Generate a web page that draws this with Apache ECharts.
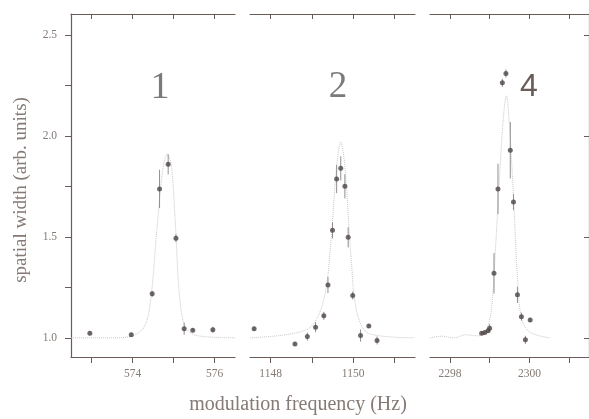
<!DOCTYPE html>
<html><head><meta charset="utf-8">
<script src="https://cdn.jsdelivr.net/npm/echarts@6/dist/echarts.min.js"></script>
<style>html,body{margin:0;padding:0;background:#fff}#c{width:589px;height:419px}</style>
</head><body><div id="c"></div>
<script>
// Panel 1 (~575 Hz)
const p1x = [572.96, 573.97, 574.48, 574.66, 574.87, 575.06, 575.26, 575.47, 575.96];
const p1y = [1.023, 1.015, 1.218, 1.738, 1.86, 1.494, 1.045, 1.038, 1.04];
const p1err = [0.01, 0.01, 0.015, 0.095, 0.05, 0.02, 0.03, 0.01, 0.015];
const fit1x = [572.5, 573.5, 574.0, 574.3, 574.45, 574.6, 574.75, 574.85, 574.95, 575.05, 575.15, 575.3, 575.6, 576.5];
const fit1y = [1.0, 1.0, 1.01, 1.06, 1.2, 1.55, 1.85, 1.91, 1.85, 1.55, 1.2, 1.05, 1.01, 1.0];
// Panel 2 (~1150 Hz)
const p2x = [1147.6, 1148.59, 1148.89, 1149.09, 1149.29, 1149.39, 1149.5, 1149.6, 1149.7, 1149.8, 1149.88, 1149.99, 1150.18, 1150.38, 1150.58];
const p2y = [1.045, 0.97, 1.006, 1.053, 1.109, 1.262, 1.533, 1.787, 1.84, 1.751, 1.498, 1.21, 1.011, 1.059, 0.987];
const p2err = [0.01, 0.01, 0.02, 0.025, 0.02, 0.04, 0.04, 0.07, 0.06, 0.06, 0.05, 0.02, 0.03, 0.01, 0.02];
const fit2x = [1147.5, 1148.5, 1149.0, 1149.3, 1149.45, 1149.6, 1149.7, 1149.8, 1149.95, 1150.1, 1150.4, 1151.5];
const fit2y = [1.0, 1.02, 1.06, 1.2, 1.45, 1.85, 1.97, 1.85, 1.4, 1.12, 1.02, 1.0];
// Panel 4 (~2300 Hz)
const p3x = [2298.8, 2298.88, 2298.96, 2299.0, 2299.11, 2299.21, 2299.32, 2299.41, 2299.52, 2299.6, 2299.7, 2299.8, 2299.9, 2300.02];
const p3y = [1.023, 1.026, 1.035, 1.048, 1.32, 1.738, 2.264, 2.31, 1.93, 1.673, 1.213, 1.105, 0.99, 1.089];
const p3err = [0.01, 0.01, 0.01, 0.02, 0.1, 0.125, 0.02, 0.02, 0.14, 0.04, 0.04, 0.02, 0.02, 0.01];
const fit3x = [2297.5, 2297.8, 2298.1, 2298.4, 2298.7, 2298.9, 2299.05, 2299.15, 2299.25, 2299.35, 2299.42, 2299.5, 2299.6, 2299.7, 2299.8, 2300.0, 2300.5];
const fit3y = [1.0, 1.008, 1.0, 1.015, 1.01, 1.03, 1.15, 1.45, 1.8, 2.1, 2.2, 2.05, 1.7, 1.3, 1.1, 1.03, 1.0];

const ranges = [[572.5, 576.5], [1147.5, 1151.5], [2297.5, 2301.5]];
const tickVals = [[573, 574, 575, 576], [1148, 1149, 1150, 1151], [2298, 2299, 2300, 2301]];
const labelVals = [[574, 576], [1148, 1150], [2298, 2300]];
const panelNames = ['1', '2', '4'];
const yTicks = [1.0, 1.25, 1.5, 1.75, 2.0, 2.25, 2.5];
const yLabels = [1.0, 1.5, 2.0, 2.5];
const yMin = 0.905, yMax = 2.605;

const AX = '#6b5b57', TX = '#857a75', FONT = '"Liberation Serif", "DejaVu Serif", serif';
const grids = [
  {left: 71, top: 14, width: 164, height: 343},
  {left: 250, top: 14, width: 165, height: 343},
  {left: 430, top: 14, width: 164, height: 343}
];
const xAxis = [], yAxis = [], series = [];
const panels = [[p1x, p1y, p1err, fit1x, fit1y], [p2x, p2y, p2err, fit2x, fit2y], [p3x, p3y, p3err, fit3x, fit3y]];
for (let i = 0; i < 3; i++) {
  xAxis.push({type: 'value', gridIndex: i, position: 'bottom', min: ranges[i][0], max: ranges[i][1],
    axisLine: {show: true, lineStyle: {color: AX, width: 1.2}},
    axisTick: {show: true, inside: false, length: 6, customValues: tickVals[i], lineStyle: {color: AX, width: 1}},
    axisLabel: {show: true, customValues: labelVals[i], margin: 11, color: TX, fontFamily: FONT, fontSize: 11.5,
      formatter: v => String(v)},
    splitLine: {show: false}});
  xAxis.push({type: 'value', gridIndex: i, position: 'top', min: ranges[i][0], max: ranges[i][1],
    axisLine: {show: true, lineStyle: {color: AX, width: 1.2}},
    axisTick: {show: true, inside: true, length: 5, customValues: tickVals[i], lineStyle: {color: AX, width: 1}},
    axisLabel: {show: false}, splitLine: {show: false}});
  yAxis.push({type: 'value', gridIndex: i, position: 'left', min: yMin, max: yMax, show: i === 0,
    axisLine: {show: true, lineStyle: {color: AX, width: 1.2}},
    axisTick: {show: true, inside: false, length: 6, customValues: yTicks, lineStyle: {color: AX, width: 1}},
    axisLabel: {show: true, customValues: yLabels, margin: 14, color: TX, fontFamily: FONT, fontSize: 11.5,
      formatter: v => v.toFixed(1)},
    splitLine: {show: false}});
}
yAxis.push({type: 'value', gridIndex: 2, position: 'right', min: yMin, max: yMax,
  axisLine: {show: true, lineStyle: {color: AX, width: 1.2}},
  axisTick: {show: true, inside: true, length: 5, customValues: yLabels, lineStyle: {color: AX, width: 1}},
  axisLabel: {show: false}, splitLine: {show: false}});

for (let i = 0; i < 3; i++) {
  const [px, py, pe, fx, fy] = panels[i];
  series.push({type: 'line', xAxisIndex: 2 * i, yAxisIndex: i, data: fx.map((x, k) => [x, fy[k]]),
    smooth: 0.35, symbol: 'none', lineStyle: {color: '#c8c8c8', width: 1, type: 'dotted'}, z: 1, silent: true});
  series.push({type: 'custom', xAxisIndex: 2 * i, yAxisIndex: i,
    data: px.map((x, k) => [x, py[k] - pe[k], py[k] + pe[k]]),
    encode: {x: 0, y: [1, 2]},
    renderItem: function (params, api) {
      const a = api.coord([api.value(0), api.value(1)]);
      const b = api.coord([api.value(0), api.value(2)]);
      return {type: 'line', shape: {x1: a[0], y1: a[1], x2: b[0], y2: b[1]},
        style: {stroke: '#8f8f8f', lineWidth: 1}};
    }, z: 2, silent: true});
  series.push({type: 'scatter', xAxisIndex: 2 * i, yAxisIndex: i, data: px.map((x, k) => [x, py[k]]),
    symbol: 'circle', symbolSize: 5, itemStyle: {color: '#4e4644'}, z: 3, silent: true});
}

const chart = echarts.init(document.getElementById('c'), null, {renderer: 'canvas'});
chart.setOption({
  animation: false,
  backgroundColor: '#fff',
  grid: grids,
  xAxis: xAxis,
  yAxis: yAxis,
  series: series,
  graphic: [
    {type: 'text', x: 298, y: 405, style: {text: 'modulation frequency (Hz)', fill: TX, font: '20px ' + FONT, align: 'center', verticalAlign: 'middle'}},
    {type: 'text', x: 21, y: 190, rotation: Math.PI / 2, style: {text: 'spatial width (arb. units)', fill: TX, font: '19px ' + FONT, align: 'center', verticalAlign: 'middle'}},
    {type: 'text', x: 160, y: 88, style: {text: panelNames[0], fill: '#7a7a7a', font: '38px ' + FONT, align: 'center', verticalAlign: 'middle'}},
    {type: 'text', x: 338, y: 87, style: {text: panelNames[1], fill: '#7a7a7a', font: '37px ' + FONT, align: 'center', verticalAlign: 'middle'}},
    {type: 'text', x: 529, y: 87, style: {text: panelNames[2], fill: '#6a5c58', font: '32px "Liberation Sans", sans-serif', align: 'center', verticalAlign: 'middle'}}
  ]
});
</script></body></html>
